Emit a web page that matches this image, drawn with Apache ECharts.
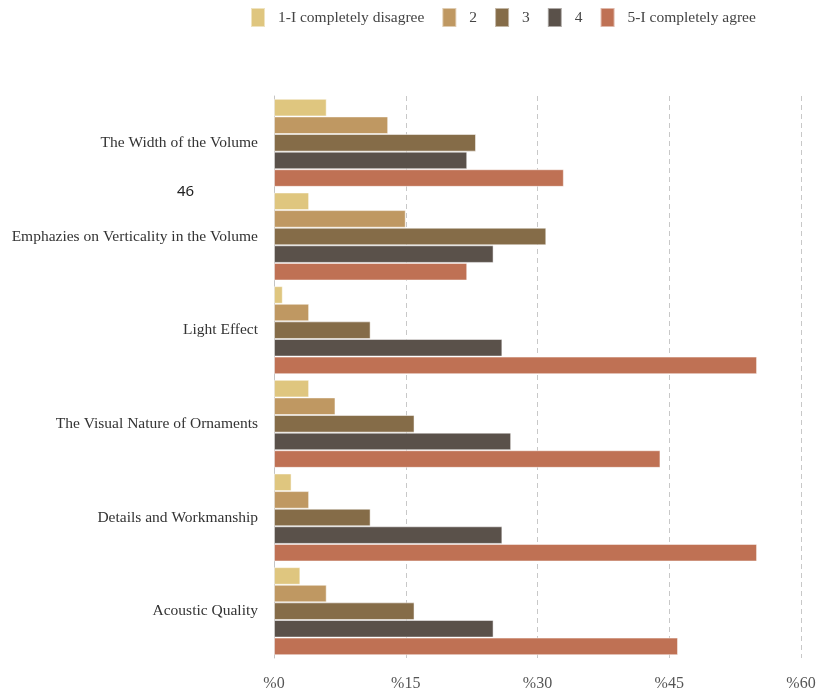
<!DOCTYPE html>
<html>
<head>
<meta charset="utf-8">
<script src="https://cdn.jsdelivr.net/npm/echarts@6/dist/echarts.min.js"></script>
<style>
  html, body { margin: 0; padding: 0; background: #fff; }
  #chart { width: 821px; height: 695px; }
</style>
</head>
<body>
<div id="chart"></div>
<script>
// Survey factors (top to bottom)
const categories = [
  'The Width of the Volume',
  'Emphazies on Verticality in the Volume',
  'Light Effect',
  'The Visual Nature of Ornaments',
  'Details and Workmanship',
  'Acoustic Quality'
];

// Answer levels
const levelNames = ['1-I completely disagree', '2', '3', '4', '5-I completely agree'];

// Share of responses (%) per level, in category order
const level1 = [6, 4, 1, 4, 2, 3];
const level2 = [13, 15, 4, 7, 4, 6];
const level3 = [23, 31, 11, 16, 11, 16];
const level4 = [22, 25, 26, 27, 26, 25];
const level5 = [33, 22, 55, 44, 55, 46];

const xTicks = [0, 15, 30, 45, 60];

const levelColors = ['#dfc67f', '#bf9862', '#856c48', '#5a514a', '#bf7154'];
const seriesValues = [level1, level2, level3, level4, level5];

const serif = '"Liberation Serif", "Times New Roman", serif';

const chart = echarts.init(document.getElementById('chart'));

chart.setOption({
  animation: false,
  legend: {
    top: 2,
    left: 245,
    itemWidth: 14,
    itemHeight: 19,
    itemGap: 17,
    icon: 'rect',
    data: levelNames,
    textStyle: {
      fontFamily: serif,
      fontSize: 15.5,
      color: '#444',
      padding: [0, 0, 0, 8]
    }
  },
  grid: {
    left: 274,
    right: 20,
    top: 96,
    bottom: 37,
    containLabel: false,
    outerBoundsMode: 'none'
  },
  xAxis: {
    type: 'value',
    min: xTicks[0],
    max: xTicks[xTicks.length - 1],
    interval: 15,
    axisLine: { show: false },
    axisTick: { show: false },
    axisLabel: {
      fontFamily: serif,
      fontSize: 16,
      color: '#555',
      margin: 18,
      formatter: v => '%' + v
    },
    splitLine: {
      show: true,
      lineStyle: { color: '#c8c8c8', type: [5, 4], width: 1 }
    }
  },
  yAxis: {
    type: 'category',
    inverse: true,
    data: categories,
    axisLine: { show: true, lineStyle: { color: '#c4c4c4', width: 1 } },
    axisTick: { show: false },
    axisLabel: {
      fontFamily: serif,
      fontSize: 15.5,
      color: '#333',
      margin: 16
    }
  },
  series: seriesValues.map((vals, i) => ({
    name: levelNames[i],
    type: 'bar',
    data: vals,
    barGap: '0%',
    barCategoryGap: '6%',
    itemStyle: {
      color: levelColors[i],
      borderColor: 'rgba(255,255,255,0.5)',
      borderWidth: 1
    }
  })),
  graphic: [{
    type: 'text',
    left: 177,
    top: 184,
    style: {
      text: '46',
      font: '15px "Noto Sans", sans-serif',
      fill: '#222'
    }
  }]
});
</script>
</body>
</html>
